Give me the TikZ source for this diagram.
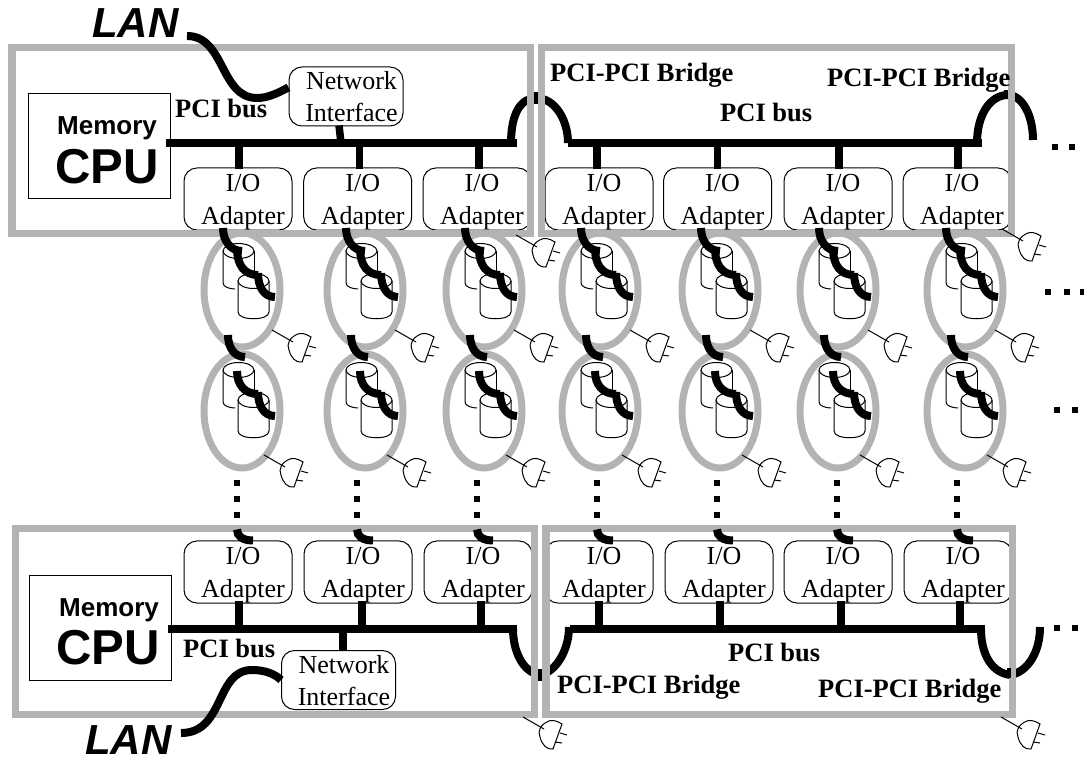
\documentclass[tikz,border=0pt]{standalone}
\usepackage{fontspec}
\setmainfont{Liberation Serif}
\setsansfont{Liberation Sans}
\usetikzlibrary{calc, shapes.geometric, positioning}

\definecolor{mgray}{RGB}{179,179,179}

\newcommand{\iotext}{\rule{0pt}{23.5pt}\hspace*{10pt}I/O\\\hspace*{10pt}Adapter}
\newcommand{\nettext}{\rule{0pt}{19pt}\hspace*{11pt}Network\\\hspace*{11pt}Interface}

% plug on a thin lead, #1 is where the lead starts
\newcommand{\plugat}[1]{
    \begin{scope}[shift={(#1)}]
        \draw[thinline] (0,0) -- (21,12);
        \draw[thinline] (39,7) .. controls (33,3) and (28,3) .. (26,4) .. controls (18,7) and (14,14) .. (17,20) .. controls (19,28) and (24,33) .. (30,32) -- cycle;
        \draw[thinline] (37,16) -- (44,18);
        \draw[thinline] (32,25) -- (39,26);
    \end{scope}
}

% two disks with the chain through them
\newcommand{\diskpair}[2]{
    \begin{scope}[shift={(#1)}]
        \draw[thinline, fill=white] (-19,-41) -- (-19,-9) .. controls (-19,-5) and (-12,-3) .. (-7,-3);
        \draw[thinline] (12,-41) -- (12,-21);
        \draw[thinline, fill=white] (-3.5,-41) ellipse [x radius=15.5, y radius=7.5];
        \draw[thinline, fill=white] (-4,-11) -- (-4,20) .. controls (-4,29) and (27,29) .. (27,20) -- (27,-11);
        \draw[thinline, fill=white] (11.5,-11) ellipse [x radius=15.5, y radius=7.5];
        \draw[wire] (-5,#2) .. controls (-5,-26) and (3,-17) .. (16,-17);
        \draw[wire] (16,-19) .. controls (16,-5) and (22,5) .. (33,5);
    \end{scope}
}

\begin{document}
\begin{tikzpicture}[
    x=1pt, y=-1pt,
    thinline/.style={draw=black, line width=1pt},
    wire/.style={draw=black, line width=8pt},
    busline/.style={draw=black, line width=7.5pt},
    stubline/.style={draw=black, line width=4pt},
    grayline/.style={draw=mgray, line width=7.5pt},
    ringnode/.style={ellipse, draw=mgray, line width=7pt, inner sep=0pt, outer sep=0pt, minimum width=76pt, minimum height=114pt},
    adapter/.style={thinline, rounded corners=13pt, inner sep=0pt, minimum width=108pt, minimum height=58pt, align=center, font=\fontsize{26}{33}\selectfont},
    netbox/.style={thinline, rounded corners=13pt, inner sep=0pt, minimum width=114pt, minimum height=59pt, align=center, font=\fontsize{26}{32}\selectfont},
    cpubox/.style={thinline, inner sep=0pt, minimum width=142pt, minimum height=105pt},
    memlabel/.style={font=\sffamily\bfseries\fontsize{26}{26}\selectfont, inner sep=0pt},
    cpulabel/.style={font=\sffamily\bfseries\fontsize{49}{49}\selectfont, inner sep=0pt},
    lanlabel/.style={font=\sffamily\bfseries\itshape\fontsize{42}{42}\selectfont, inner sep=0pt, anchor=base west},
    buslabel/.style={font=\bfseries\fontsize{26.5}{26.5}\selectfont, inner sep=0pt, anchor=base west},
    dotline/.style={draw=black, line width=6pt, dash pattern=on 6pt off 10pt}
]

\useasboundingbox (0,0) rectangle (1084,759);

% bus ends
\coordinate (busA) at (166,143);
\coordinate (busAe) at (517,143);
\coordinate (busB) at (568,143);
\coordinate (busBe) at (982,143);
\coordinate (busC) at (168,629);
\coordinate (busCe) at (517,629);
\coordinate (busD) at (570,629);
\coordinate (busDe) at (985,629);

% adapters
\foreach \i/\x in {1/238, 2/357.7, 3/477, 4/599, 5/717.5, 6/838, 7/957} {
    \node[adapter] (iot\i) at (\x,199) {\iotext};
}
\foreach \i/\x in {1/238, 2/358, 3/478, 4/599, 5/719, 6/838, 7/958} {
    \node[adapter] (iob\i) at (\x,572) {\iotext};
}
\foreach \i/\x in {1/237, 2/357, 3/477, 4/597, 5/717, 6/837, 7/957} {
    \coordinate (dot\i) at (\x,480);
}
\node[netbox] (nett) at (346,96.5) {\nettext};
\node[netbox] (netb) at (338.5,680) {\nettext};

% arcs between the boards
\draw[wire] (511,143) .. controls (511,115) and (520,98) .. (536,98) .. controls (555,98) and (568,120) .. (568,143);
\draw[wire] (977,143) .. controls (977,115) and (990,95) .. (1008,95) .. controls (1022,95) and (1033,115) .. (1033,140);
\draw[wire] (513,629) .. controls (513,650) and (522,672) .. (540,675) .. controls (556,672) and (569,650) .. (569,627);
\draw[wire] (981,629) .. controls (981,652) and (990,672) .. (1010,675) .. controls (1028,672) and (1040,652) .. (1040,627);

% chains of dots down to the lower boards
\foreach \i in {1,...,7} {
    \draw[dotline] (dot\i) -- (dot\i |- iob\i.north);
}

% boards
\draw[grayline] (12,47.5) rectangle (530.5,233.5);
\draw[grayline] (541.5,47.5) rectangle (1011.5,233.5);
\draw[grayline] (15.5,528.5) rectangle (534.5,714.5);
\draw[grayline] (546,528.5) rectangle (1012.5,714.5);

\draw[stubline] (536,92) -- (536,104);
\draw[stubline] (540,669) -- (540,681);
\draw[stubline] (1006,90) -- (1006,99);
\draw[stubline] (1009,668) -- (1009,678);

% disk enclosures
\foreach \i/\x in {1/242, 2/365, 3/484, 4/600, 5/720, 6/838, 7/965} {
    \node[ringnode] (ringu\i) at (\x,290) {};
    \node[ringnode] (ringl\i) at (\x,411) {};
}
\foreach \i in {1,...,7} {
    \diskpair{$(ringu\i)+(0,2)$}{-44}
    \diskpair{ringl\i}{-40}
    \draw[wire] ($(ringu\i)+(-19,-62)$) .. controls ($(ringu\i)+(-19,-50)$) and ($(ringu\i)+(-12,-39)$) .. ($(ringu\i)+(0,-39)$);
    \draw[wire] ($(ringl\i)+(-14,-76)$) .. controls ($(ringl\i)+(-14,-64)$) and ($(ringl\i)+(-8,-54)$) .. ($(ringl\i)+(3,-54)$);
    \draw[wire] ($(iob\i.north -| dot\i)+(0,-11)$) .. controls ($(iob\i.north -| dot\i)+(0,-4)$) and ($(iob\i.north -| dot\i)+(6,0)$) .. ($(iob\i.north -| dot\i)+(16,0)$);
    \plugat{$(ringu\i)+(30,40)$}
    \plugat{$(ringl\i)+(22,44)$}
}
\plugat{516,235}
\plugat{1002,229}
\plugat{523,717}
\plugat{1001,717}

% buses
\draw[busline] (busA) -- (busAe);
\draw[busline] (busB) -- (busBe);
\draw[busline] (busC) -- (busCe);
\draw[busline] (busD) -- (busDe);
\foreach \i/\d in {1/1, 2/2, 3/2, 4/-2, 5/0, 6/1, 7/1} {
    \draw[busline] ($(iot\i.north)+(\d,2)$) -- ($(iot\i.north |- busA)+(\d,0)$);
}
\foreach \i/\d in {1/1, 2/4, 3/3, 4/0, 5/1, 6/3, 7/2} {
    \draw[busline] ($(iob\i.south)+(\d,-3)$) -- ($(iob\i.south |- busC)+(\d,0)$);
}
\draw[busline] ($(nett.south)+(-7,-1)$) -- ($(busA)+(175,0)$);
\draw[busline] ($(busC)+(175,0)$) -- ($(netb.north)+(4.5,0)$);

% hosts
\node[cpubox] (cput) at (99,146.5) {};
\node[memlabel] (memt) at (107,128) {Memory};
\node[cpulabel] (cpult) at (107,167) {CPU};
\node[cpubox] (cpub) at (100,628) {};
\node[memlabel] (memb) at (109,610) {Memory};
\node[cpulabel] (cpulb) at (108,648) {CPU};

% LAN
\node[lanlabel] (lant) at (92,38) {LAN};
\node[lanlabel] (lanb) at (85,754) {LAN};
\draw[wire] (187,36) .. controls (225,36) and (220,98) .. (257,98) .. controls (268,98) and (278,93) .. (nett.171);
\draw[wire] (181,733) .. controls (225,733) and (215,670) .. (252,670) .. controls (265,670) and (275,674) .. (netb.west);

% labels
\node[buslabel] (pcit) at (175,118) {PCI bus};
\node[buslabel] (pcib) at (183,657) {PCI bus};
\node[buslabel] (pcitr) at (720,122) {PCI bus};
\node[buslabel] (pcibr) at (728,661) {PCI bus};
\node[buslabel] (brta) at (550,82) {PCI-PCI Bridge};
\node[buslabel] (brtb) at (827,87) {PCI-PCI Bridge};
\node[buslabel] (brba) at (557,693) {PCI-PCI Bridge};
\node[buslabel] (brbb) at (818,697) {PCI-PCI Bridge};

% more boards to the right
\foreach \x/\y in {1055/147, 1072/147, 1048/292, 1067/292, 1083/292, 1057/410, 1075/410, 1057/628, 1075/628} {
    \fill[black] (\x-3,\y-3) rectangle (\x+3,\y+3);
}

\end{tikzpicture}
\end{document}
